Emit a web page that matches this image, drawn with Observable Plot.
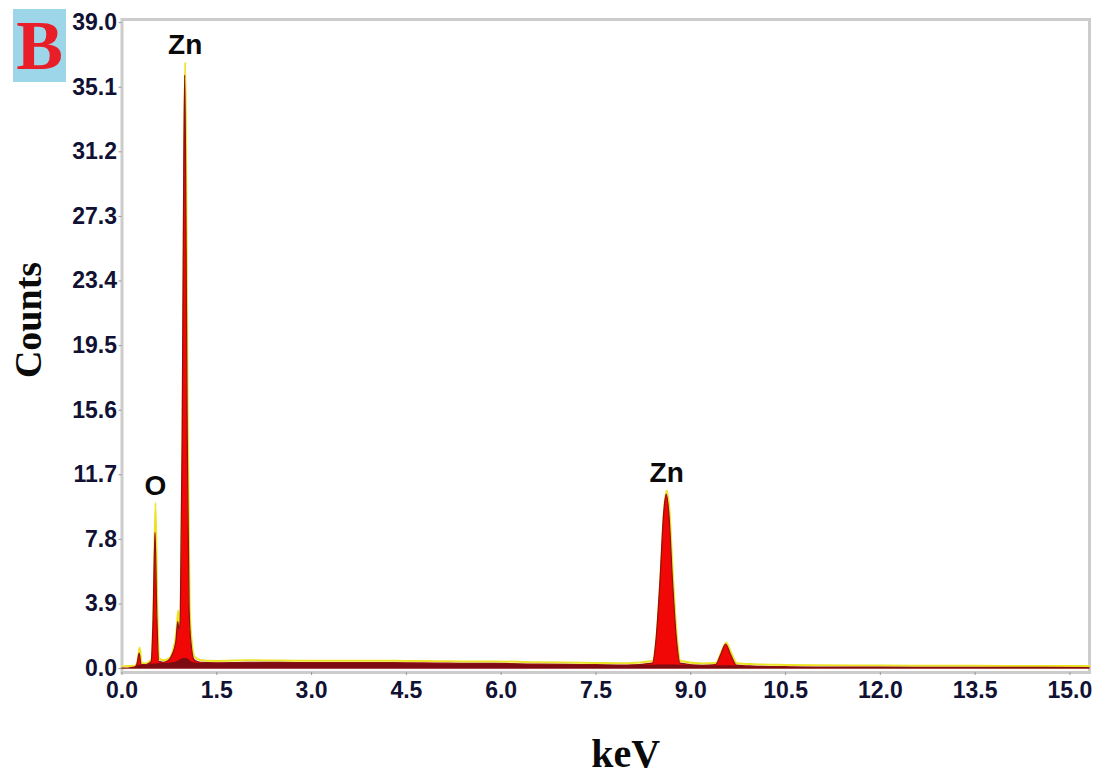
<!DOCTYPE html>
<html>
<head>
<meta charset="utf-8">
<script src="https://cdn.jsdelivr.net/npm/d3@7"></script>
<script src="https://cdn.jsdelivr.net/npm/@observablehq/plot@0.6"></script>
<style>
  html, body { margin: 0; padding: 0; background: #fff; }
  #wrap { position: relative; width: 1111px; height: 775px; }
  #panel { position: absolute; left: 13px; top: 9px; width: 53px; height: 73px; background: #9dd6e8;
           font-family: "Liberation Serif", "DejaVu Serif", serif; font-weight: bold; font-size: 70px;
           color: #e81e28; line-height: 73px; text-align: center; }
</style>
</head>
<body>
<div id="wrap"><div id="panel">B</div></div>
<script>
// Energy grid (keV)
const keV = [0.00, 0.10, 0.20, 0.24, 0.28, 0.31, 0.38, 0.44, 0.47, 0.50, 0.53, 0.56, 0.59, 0.66, 0.74, 0.80,
  0.86, 0.89, 0.91, 0.93, 0.96, 0.985, 1.00, 1.015, 1.04, 1.07, 1.10, 1.15, 1.25, 1.50, 2.00, 2.50, 3.00,
  3.50, 4.00, 4.50, 5.00, 5.50, 5.90, 6.50, 7.00, 7.50, 8.00, 8.40, 8.46, 8.52, 8.58, 8.62, 8.66, 8.72,
  8.78, 8.84, 9.20, 9.40, 9.48, 9.56, 9.64, 9.73, 10.00, 10.50, 11.00, 12.00, 13.00, 14.00, 15.31];
// Spectrum counts (red filled trace)
const countsRed = [0, 0, 0.05, 0.2, 0.9, 0.2, 0.2, 0.3, 0.4, 3.0, 8.2, 3.0, 0.4, 0.35, 0.45, 0.8,
  1.6, 2.8, 2.3, 3.0, 14, 30, 35.8, 30, 14, 3.5, 1.5, 0.5, 0.35, 0.32, 0.35, 0.34, 0.33,
  0.33, 0.33, 0.32, 0.3, 0.28, 0.28, 0.24, 0.22, 0.2, 0.18, 0.3, 1.8, 5.2, 9.4, 10.5, 9.4, 5.2,
  1.8, 0.3, 0.16, 0.2, 0.8, 1.45, 0.8, 0.18, 0.12, 0.08, 0.06, 0.05, 0.04, 0.04, 0.03];
// Yellow envelope trace
const countsYellow = [0.12, 0.15, 0.15, 0.35, 1.27, 0.35, 0.3, 0.45, 0.6, 4.0, 10.0, 3.5, 0.6, 0.5, 0.6, 1.0,
  2.2, 3.5, 2.6, 3.4, 15, 31.5, 36.6, 31, 15, 3.9, 1.8, 0.7, 0.5, 0.46, 0.5, 0.48, 0.47,
  0.47, 0.47, 0.46, 0.44, 0.42, 0.43, 0.38, 0.36, 0.34, 0.32, 0.45, 2.0, 5.5, 9.7, 10.75, 9.7, 5.5,
  2.0, 0.45, 0.3, 0.33, 0.95, 1.55, 0.95, 0.32, 0.26, 0.22, 0.2, 0.18, 0.17, 0.16, 0.15];
// Background (maroon band)
const countsBkg = [0, 0, 0.03, 0.15, 0.2, 0.18, 0.18, 0.25, 0.28, 0.28, 0.28, 0.28, 0.3, 0.3, 0.32, 0.35,
  0.4, 0.45, 0.5, 0.55, 0.58, 0.6, 0.6, 0.6, 0.58, 0.5, 0.4, 0.35, 0.3, 0.3, 0.33, 0.32, 0.31,
  0.31, 0.31, 0.3, 0.28, 0.26, 0.26, 0.22, 0.2, 0.18, 0.17, 0.2, 0.22, 0.22, 0.22, 0.22, 0.22, 0.22,
  0.22, 0.2, 0.15, 0.16, 0.17, 0.17, 0.17, 0.15, 0.1, 0.07, 0.05, 0.04, 0.03, 0.03, 0.02];

// Peak labels
const peakNames = ["O", "Zn", "Zn"];
const peakKeV = [0.53, 1.00, 8.62];
const peakTop = [10.0, 36.6, 10.75];

// Ticks
const xTicks = [0.0, 1.5, 3.0, 4.5, 6.0, 7.5, 9.0, 10.5, 12.0, 13.5, 15.0];
const yTicks = [0.0, 3.9, 7.8, 11.7, 15.6, 19.5, 23.4, 27.3, 31.2, 35.1, 39.0];

const spectrum = keV.map((e, i) => ({e, red: countsRed[i], yellow: countsYellow[i], bkg: countsBkg[i]}));
const peaks = peakNames.map((n, i) => ({n, e: peakKeV[i], top: peakTop[i]}));

const chart = Plot.plot({
  width: 1111,
  height: 775,
  marginLeft: 121.5,
  marginRight: 22,
  marginTop: 19,
  marginBottom: 103,
  style: {fontFamily: "'Liberation Sans', Arial, sans-serif", background: "#fff", color: "#111133"},
  x: {domain: [0, 15.31], ticks: xTicks, tickFormat: d3.format(".1f"), label: null},
  y: {domain: [-0.24, 39.19], ticks: yTicks, tickFormat: d3.format(".1f"), label: null},
  marks: [
    Plot.frame({stroke: "#cccccc", strokeWidth: 3}),
    Plot.line(spectrum, {x: "e", y: "yellow", stroke: "#ece326", strokeWidth: 2, curve: "monotone-x"}),
    Plot.areaY(spectrum, {x: "e", y1: 0, y2: "red", fill: "#f20707", stroke: "#8e1010", strokeWidth: 1.2, curve: "monotone-x"}),
    Plot.areaY(spectrum, {x: "e", y1: 0, y2: "bkg", fill: "#7d0c12", curve: "monotone-x"}),
    Plot.axisX({ticks: xTicks, tickFormat: d3.format(".1f"), tickSize: 3, tickPadding: 6, stroke: "#999",
      fontSize: 23, fontWeight: "bold", fill: "#111133", label: null}),
    Plot.axisY({ticks: yTicks, tickFormat: d3.format(".1f"), tickSize: 3, tickPadding: 2, stroke: "#999",
      fontSize: 23, fontWeight: "bold", fill: "#111133", label: null}),
    Plot.text(peaks, {x: "e", y: "top", text: "n", dy: -17, lineAnchor: "middle",
      fontSize: 28, fontWeight: "bold", fill: "#0a0a0a"}),
    Plot.text(["Counts"], {frameAnchor: "left", dx: -93, dy: -26, rotate: -90, textAnchor: "middle", lineAnchor: "middle",
      fontSize: 38, fontWeight: "bold", fontFamily: "'Liberation Serif', 'Times New Roman', serif", fill: "#0a0a0a"}),
    Plot.text(["keV"], {frameAnchor: "bottom", dx: 20, dy: 82, textAnchor: "middle", lineAnchor: "middle",
      fontSize: 40, fontWeight: "bold", fontFamily: "'Liberation Serif', 'Times New Roman', serif", fill: "#0a0a0a"})
  ]
});
document.getElementById("wrap").prepend(chart);
</script>
</body>
</html>
